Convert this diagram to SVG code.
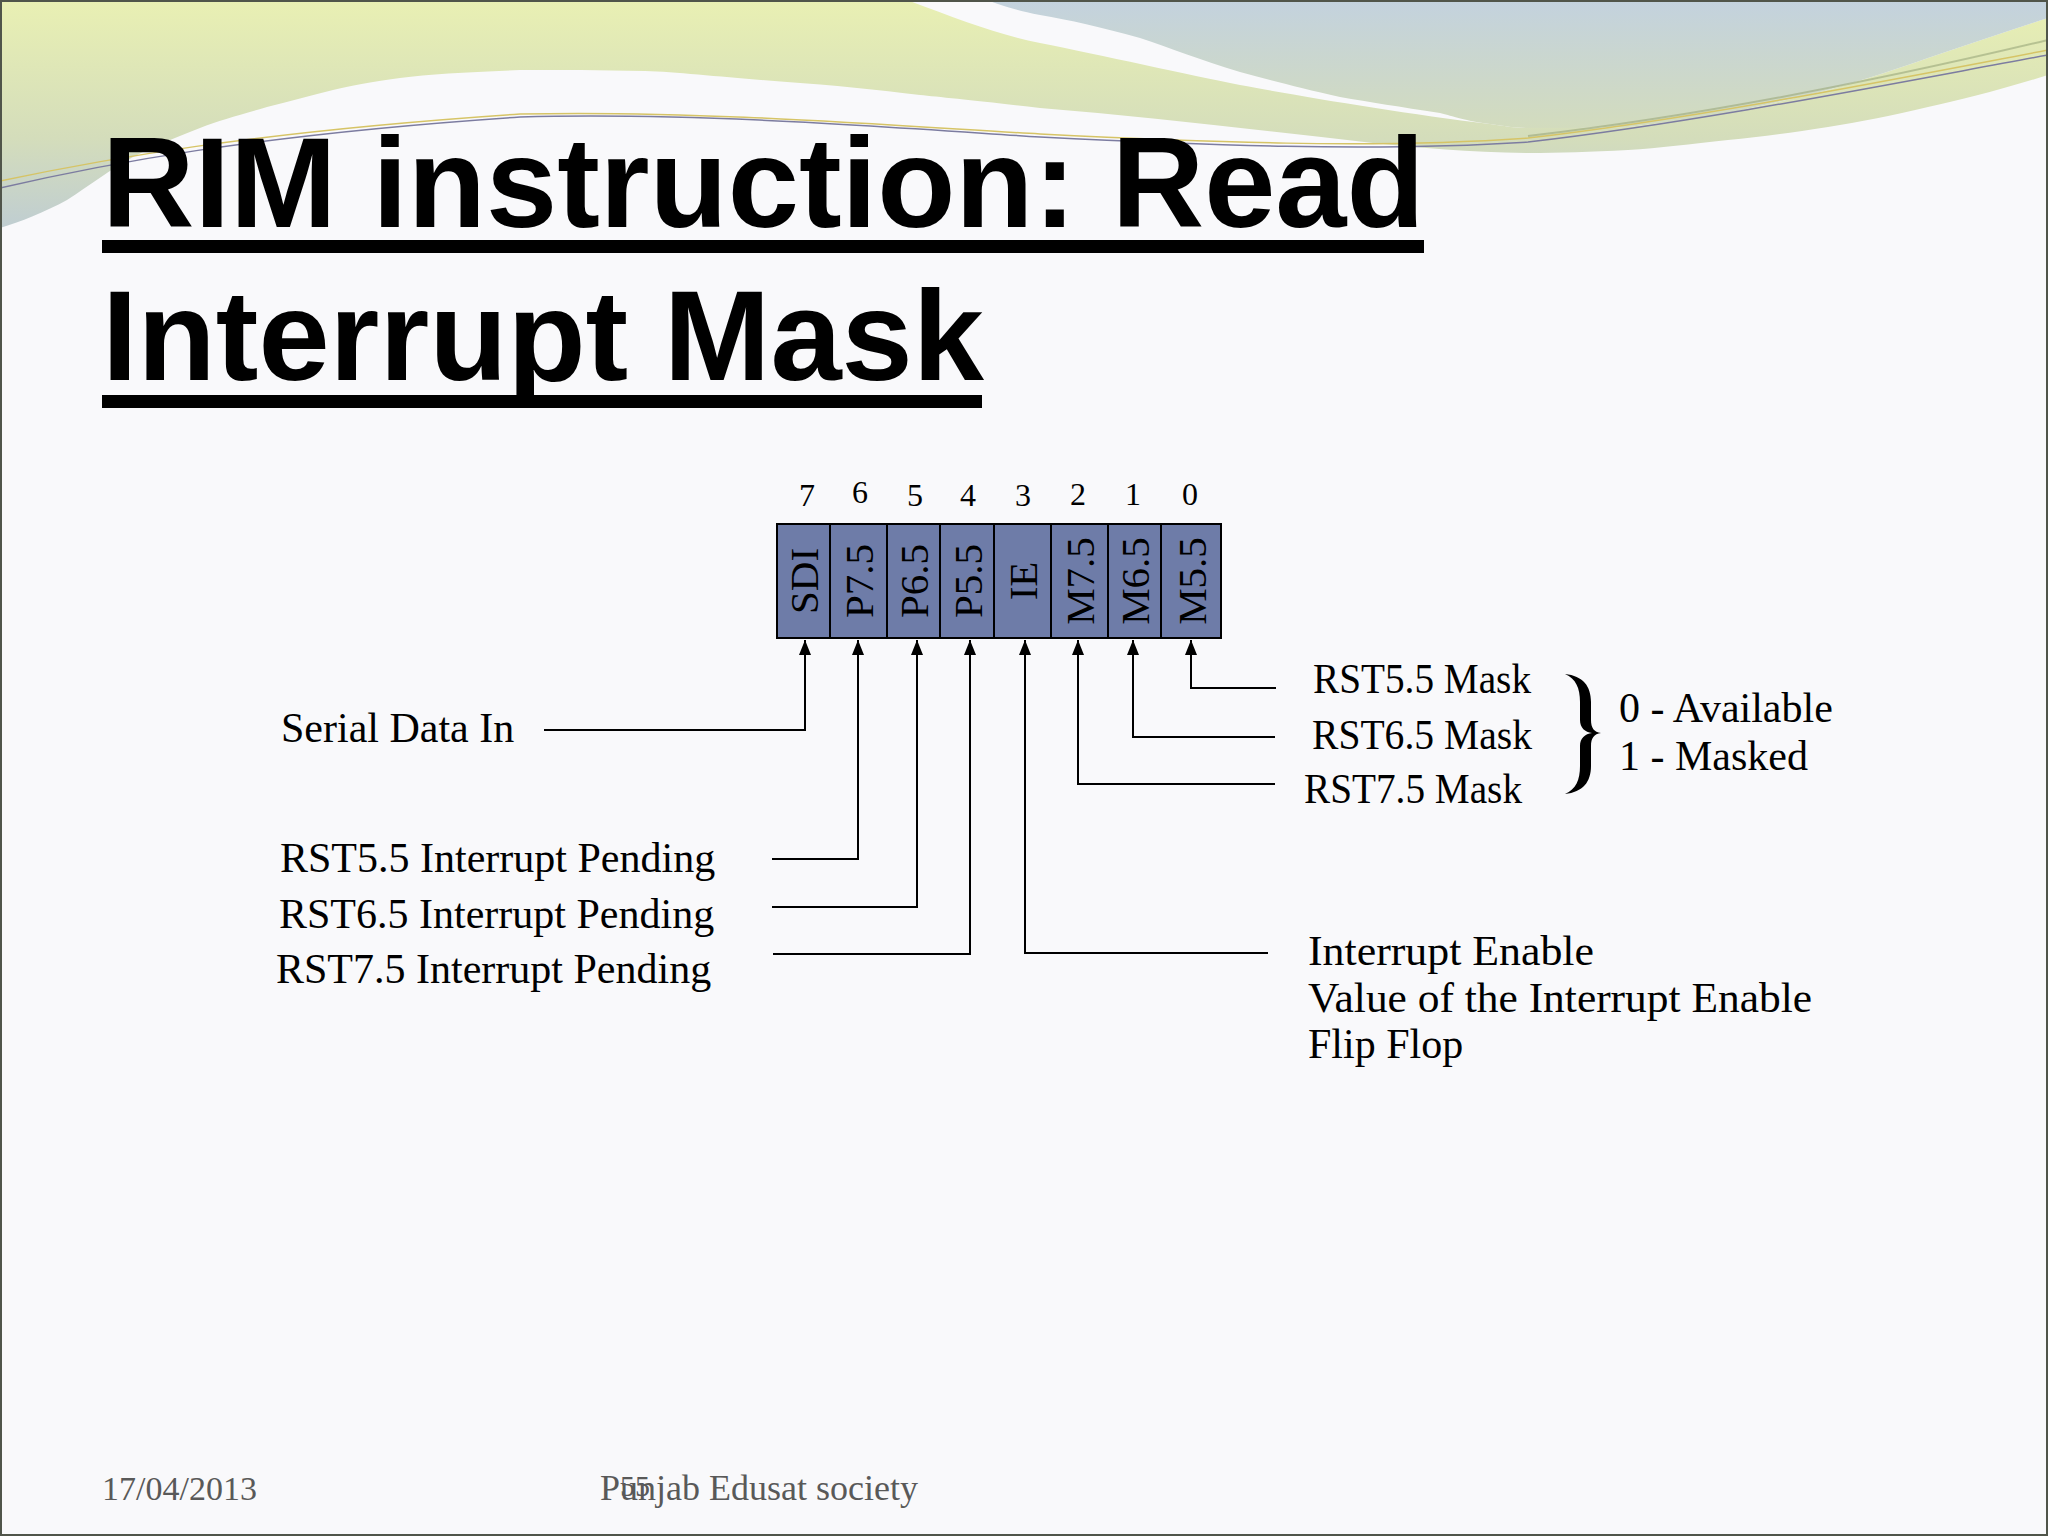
<svg xmlns="http://www.w3.org/2000/svg" width="2048" height="1536" viewBox="0 0 2048 1536">
<defs>
<linearGradient id="gGreen" gradientUnits="userSpaceOnUse" x1="0" y1="0" x2="0" y2="230">
<stop offset="0" stop-color="#e9f0b3"/>
<stop offset="0.6" stop-color="#d4ddbb"/>
<stop offset="1" stop-color="#bfcdd2"/>
</linearGradient>
<linearGradient id="gBlue" gradientUnits="userSpaceOnUse" x1="0" y1="0" x2="0" y2="130">
<stop offset="0" stop-color="#c3d2de"/>
<stop offset="1" stop-color="#d3dcbd"/>
</linearGradient>
<marker id="ah" markerWidth="16" markerHeight="12" refX="15" refY="6" orient="auto" markerUnits="userSpaceOnUse">
<path d="M0,0 L15,6 L0,12 z" fill="#000"/>
</marker>
<style>
.title{font-family:"Liberation Sans",Arial,sans-serif;font-weight:bold;font-size:128px;fill:#000}
.lbl{font-family:"Liberation Serif","Times New Roman",serif;font-size:42px;fill:#000}
.num{font-family:"Liberation Serif","Times New Roman",serif;font-size:32px;fill:#000;text-anchor:middle}
.cell rect{fill:#6e7ca8;stroke:#000;stroke-width:2}
.cell text{font-family:"Liberation Serif","Times New Roman",serif;font-size:41px;fill:#000;text-anchor:middle}
.foot{font-family:"Liberation Serif","Times New Roman",serif;fill:#595959}
.conn path{fill:none;stroke:#000;stroke-width:2;marker-end:url(#ah)}
</style>
</defs>
<rect x="0" y="0" width="2048" height="1536" fill="#f9f9fb"/>
<g id="decoration">
<path d="M0 0 H907 C960 20 1000 35 1040 43 C1100 55 1190 75 1240 85 C1300 96 1400 113 1490 124 C1505 126 1515 128 1528 128 C1560 128 1600 128 1628 127 C1670 122 1700 118 1728 113 C1770 104 1800 97 1828 90 C1870 78 1900 68 1928 58 C1970 44 2010 30 2048 18 V75 C2000 90 1960 100 1928 107 C1890 116 1860 122 1828 127 C1790 133 1760 137 1728 140 C1690 144 1660 148 1628 150 C1590 152 1560 153 1528 153 C1470 152 1420 148 1373 143 C1260 130 1150 117 1040 108 C980 101 940 97 920 95 C880 90 830 85 787 82 C730 78 680 72 645 71 C600 70 560 70 520 70 C470 72 430 74 400 78 C370 82 350 86 333 90 C310 96 290 101 267 107 C240 115 220 120 200 128 C170 140 150 148 133 157 C110 170 90 185 67 200 C45 212 20 222 0 228 Z" fill="url(#gGreen)"/>
<path d="M987 0 H2048 V18 C2010 30 1970 44 1928 58 C1900 68 1870 78 1828 90 C1800 97 1770 104 1728 113 C1700 118 1670 122 1628 127 C1600 128 1560 128 1528 128 C1515 128 1505 126 1490 124 C1460 120 1450 115 1440 113 C1400 107 1370 102 1340 97 C1300 88 1270 80 1240 72 C1200 60 1170 48 1140 38 C1100 27 1070 20 1040 15 C1015 10 1000 5 987 0 Z" fill="url(#gBlue)"/>
<path d="M0 188 C100 165 250 135 520 117 C700 112 900 128 1040 137 C1200 145 1373 152 1528 142 C1700 122 1900 82 2048 55" fill="none" stroke="#7c7ca0" stroke-width="1.5"/>
<path d="M0 181 C100 160 250 132 520 114 C700 110 900 126 1040 134 C1200 142 1373 149 1528 138 C1700 118 1900 78 2048 50" fill="none" stroke="#d6c466" stroke-width="1.5"/>
<path d="M1528 136 C1700 116 1880 80 2048 40" fill="none" stroke="#9aa77a" stroke-width="2" opacity="0.6"/>
</g>
<rect x="1" y="1" width="2046" height="1534" fill="none" stroke="#50554a" stroke-width="2"/>

<g id="title">
<text class="title" x="102" y="227">RIM instruction: Read</text>
<rect x="102" y="240" width="1322" height="13" fill="#000"/>
<text class="title" x="102" y="380">Interrupt Mask</text>
<rect x="102" y="395" width="880" height="13" fill="#000"/>
</g>

<g id="bit-numbers">
<text class="num" x="807" y="506">7</text>
<text class="num" x="860" y="503">6</text>
<text class="num" x="915" y="506">5</text>
<text class="num" x="968" y="506">4</text>
<text class="num" x="1023" y="506">3</text>
<text class="num" x="1078" y="505">2</text>
<text class="num" x="1133" y="505">1</text>
<text class="num" x="1190" y="505">0</text>
</g>

<g id="register">
<g id="bit7" class="cell"><rect x="777" y="524" width="53" height="114"/><text transform="translate(805 581) rotate(-90)" y="13">SDI</text></g>
<g id="bit6" class="cell"><rect x="830" y="524" width="57" height="114"/><text transform="translate(860 581) rotate(-90)" y="13">P7.5</text></g>
<g id="bit5" class="cell"><rect x="887" y="524" width="53" height="114"/><text transform="translate(915 581) rotate(-90)" y="13">P6.5</text></g>
<g id="bit4" class="cell"><rect x="940" y="524" width="54" height="114"/><text transform="translate(969 581) rotate(-90)" y="13">P5.5</text></g>
<g id="bit3" class="cell"><rect x="994" y="524" width="57" height="114"/><text transform="translate(1024 581) rotate(-90)" y="13">IE</text></g>
<g id="bit2" class="cell"><rect x="1051" y="524" width="57" height="114"/><text transform="translate(1081 581) rotate(-90)" y="13">M7.5</text></g>
<g id="bit1" class="cell"><rect x="1108" y="524" width="53" height="114"/><text transform="translate(1136 581) rotate(-90)" y="13">M6.5</text></g>
<g id="bit0" class="cell"><rect x="1161" y="524" width="60" height="114"/><text transform="translate(1193 581) rotate(-90)" y="13">M5.5</text></g>
</g>

<g id="connectors" class="conn">
<path d="M544 730 H805 V640"/>
<path d="M772 859 H858 V640"/>
<path d="M772 907 H917 V640"/>
<path d="M773 954 H970 V640"/>
<path d="M1268 953 H1025 V640"/>
<path d="M1275 784 H1078 V640"/>
<path d="M1275 737 H1133 V640"/>
<path d="M1276 688 H1191 V640"/>
</g>

<g id="label-sdi"><text class="lbl" x="281" y="742">Serial Data In</text></g>
<g id="label-p55"><text class="lbl" x="280" y="872">RST5.5 Interrupt Pending</text></g>
<g id="label-p65"><text class="lbl" x="279" y="928">RST6.5 Interrupt Pending</text></g>
<g id="label-p75"><text class="lbl" x="276" y="983">RST7.5 Interrupt Pending</text></g>
<g id="label-m55"><text class="lbl" x="1313" y="693" textLength="218" lengthAdjust="spacingAndGlyphs">RST5.5 Mask</text></g>
<g id="label-m65"><text class="lbl" x="1312" y="749" textLength="220" lengthAdjust="spacingAndGlyphs">RST6.5 Mask</text></g>
<g id="label-m75"><text class="lbl" x="1304" y="803" textLength="218" lengthAdjust="spacingAndGlyphs">RST7.5 Mask</text></g>
<g id="brace">
<path d="M1565 674 C1583 676 1591 686 1591 702 L1591 720 C1591 728 1594 732 1601 733 C1594 734 1591 738 1591 746 L1591 766 C1591 782 1583 792 1565 794 C1576 789 1580 780 1580 766 L1580 746 C1580 738 1585 734 1592 733 C1585 732 1580 728 1580 720 L1580 702 C1580 688 1576 679 1565 674 Z" fill="#000"/>
</g>
<g id="label-mask-values">
<text class="lbl" x="1619" y="722">0 - Available</text>
<text class="lbl" x="1619" y="770">1 - Masked</text>
</g>
<g id="label-ie">
<text class="lbl" x="1308" y="965" textLength="286" lengthAdjust="spacingAndGlyphs">Interrupt Enable</text>
<text class="lbl" x="1308" y="1012" textLength="504" lengthAdjust="spacingAndGlyphs">Value of the Interrupt Enable</text>
<text class="lbl" x="1308" y="1058">Flip Flop</text>
</g>

<g id="footer">
<text class="foot" x="102" y="1500" font-size="34">17/04/2013</text>
<text class="foot" x="600" y="1500" font-size="36">Punjab Edusat society</text>
<text class="foot" x="620" y="1496" font-size="30">55</text>
</g>
</svg>
